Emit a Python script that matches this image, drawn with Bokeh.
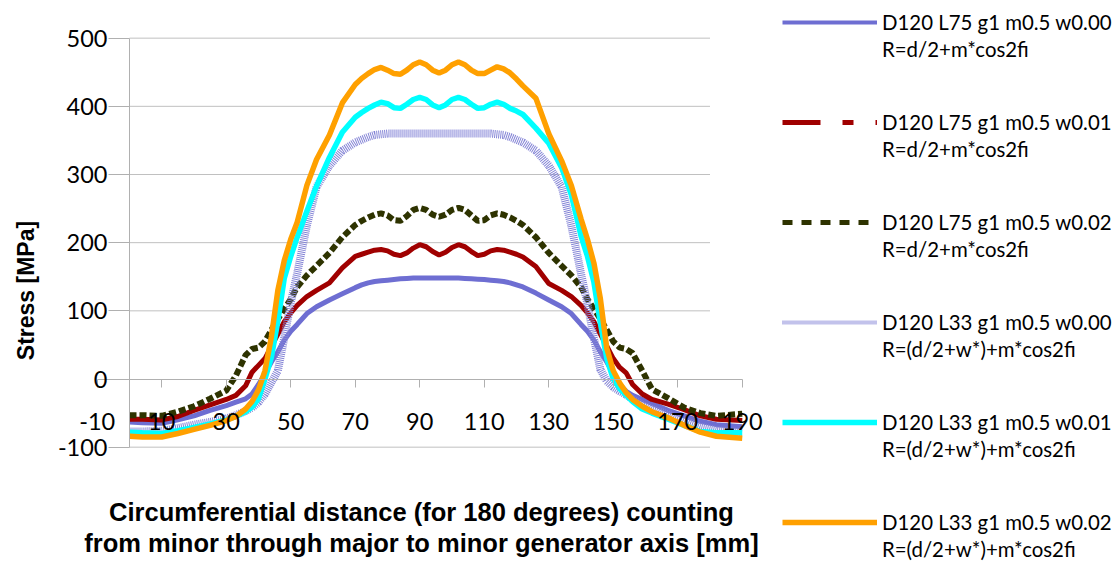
import math
from bokeh.plotting import figure
from bokeh.models import FixedTicker, Legend, LegendItem, Label, Range1d, ColumnDataSource
from bokeh.embed import file_html
from bokeh.resources import INLINE

# ---- data ----
x_mm = [0, 4, 10, 15, 20, 25, 30, 33, 36, 38,
        40, 42, 44, 46, 48, 50, 52, 55, 58, 62,
        66, 70, 72, 74, 76, 78, 80, 82, 84, 86,
        88, 90, 92, 94, 96,
        98, 100, 102, 104, 106, 108, 110, 112, 114, 116,
        118, 120, 122, 126, 130, 134, 137, 140, 142, 144,
        146, 148, 150, 152, 154, 156, 159, 162, 167, 172,
        177, 182, 190]

s1_L75_w000 = [-63, -64, -65, -60, -54, -46, -39, -34, -29, -22,
               -8, 8, 25, 40, 57, 70, 80, 96, 106, 116,
               125, 134, 138, 141, 143, 144, 145, 146, 147, 147.5,
               148, 148, 148, 148, 148,
               148, 148, 148, 147.5, 147, 146.5, 146, 145, 144, 143,
               141, 138, 135, 126, 116, 106, 96, 80, 70, 57,
               40, 25, 8, -8, -18, -24, -30, -36, -46, -54,
               -62, -67, -70]

s2_L75_w001 = [-59, -59, -60, -55, -46, -38, -30, -24, -10, 10,
               20, 30, 48, 66, 84, 97, 108, 121, 130, 141,
               163, 180, 183, 186, 189, 190, 188, 183, 181, 185,
               192, 197, 194, 187, 182,
               186, 193, 197, 194, 187, 181, 183, 188, 190, 189,
               186, 183, 179, 165, 140, 130, 121, 108, 97, 84,
               66, 48, 30, 17, 9, -8, -22, -30, -37, -45,
               -54, -59, -61]

s3_L75_w002 = [-53, -53, -54, -48, -40, -29, -17, 5, 35, 44,
               46, 55, 72, 88, 103, 117, 135, 152, 166, 185,
               208, 226, 232, 237, 241, 243, 240, 233, 232, 239,
               248, 251, 248, 241, 238,
               241, 248, 251, 248, 240, 232, 233, 240, 243, 241,
               237, 232, 226, 208, 185, 166, 152, 135, 117, 103,
               88, 72, 55, 46, 44, 38, 12, -15, -28, -42,
               -50, -54, -51]

s4_L33_w000 = [-77, -77, -76, -72, -67, -63, -58, -53, -47, -42,
               -34, -22, -5, 12, 60, 112, 155, 225, 282, 313,
               335, 347, 351, 355, 358, 359, 360, 360, 360, 360,
               360, 360, 360, 360, 360,
               360, 360, 360, 360, 360, 360, 360, 360, 359, 358,
               355, 351, 347, 335, 313, 282, 225, 155, 110, 60,
               14, -3, -12, -18, -23, -30, -38, -44, -52, -61,
               -70, -75, -78]

s5_L33_w001 = [-78, -79, -80, -76, -71, -66, -60, -55, -48, -41,
               -29, 0, 32, 85, 148, 180, 208, 246, 283, 325,
               362, 384, 391, 397, 402, 406, 404, 398, 397, 403,
               410, 413, 410, 402, 398,
               402, 410, 413, 410, 403, 397, 398, 403, 406, 403,
               397, 393, 388, 368, 346, 310, 270, 210, 180, 142,
               82, 30, 0, -14, -24, -33, -44, -50, -59, -68,
               -77, -79, -79]

s6_L33_w002 = [-84, -85, -85, -80, -74, -68, -61, -55, -44, -33,
               -16, 12, 62, 130, 174, 205, 230, 284, 322, 358,
               405, 432, 441, 448, 454, 457, 453, 448, 447, 453,
               461, 465, 461, 453, 449,
               453, 461, 465, 461, 453, 448, 448, 453, 458, 455,
               449, 440, 430, 412, 360, 320, 284, 235, 205, 170,
               118, 45, 12, -6, -20, -30, -40, -48, -57, -68,
               -78, -84, -87]

series_labels = [
    "D120 L75 g1 m0.5 w0.00\nR=d/2+m*cos2fi",
    "D120 L75 g1 m0.5 w0.01\nR=d/2+m*cos2fi",
    "D120 L75 g1 m0.5 w0.02\nR=d/2+m*cos2fi",
    "D120 L33 g1 m0.5 w0.00\nR=(d/2+w*)+m*cos2fi",
    "D120 L33 g1 m0.5 w0.01\nR=(d/2+w*)+m*cos2fi",
    "D120 L33 g1 m0.5 w0.02\nR=(d/2+w*)+m*cos2fi",
]

x_ticks = [-10, 10, 30, 50, 70, 90, 110, 130, 150, 170, 190]
y_ticks = [-100, 0, 100, 200, 300, 400, 500]
grid_y = [-100, 100, 200, 300, 400, 500]
grid_x_start, grid_x_end = 0, 180
x_bounds = (-10, 190)
y_bounds = (-100, 500)

x_title_lines = ["Circumferential distance (for 180 degrees) counting",
                 "from minor through major to minor generator axis [mm]"]
y_title = "Stress [MPa]"

# ---- layout: the frame covers the whole canvas, axes sit at x=0 / y=0 ----
W, H = 1116, 569
X0_PX, X_SCALE = 129.0, 3.225      # page px of x=0, px per mm
Y0_PX, Y_SCALE = 378.5, 0.6817     # page px of y=0, px per MPa


def dx(px):
    return (px - X0_PX) / X_SCALE


def dy(py):
    return (Y0_PX - py) / Y_SCALE


p = figure(frame_width=W, frame_height=H,
           x_range=Range1d(dx(0), dx(W)), y_range=Range1d(dy(H), dy(0)),
           output_backend="svg", toolbar_location=None,
           min_border_left=0, min_border_right=0, min_border_top=0, min_border_bottom=0)
p.outline_line_color = None
p.xgrid.visible = False
p.ygrid.visible = False
p.background_fill_color = "white"
p.border_fill_color = "white"

grid_color = "#c0c0c0"
p.segment(x0=[grid_x_start] * len(grid_y), x1=[grid_x_end] * len(grid_y),
          y0=grid_y, y1=grid_y, line_color=grid_color, line_width=1)

src = ColumnDataSource(dict(x=x_mm, s1=s1_L75_w000, s2=s2_L75_w001, s3=s3_L75_w002,
                            s4=s4_L33_w000, s5=s5_L33_w001, s6=s6_L33_w002))

r1 = p.line("x", "s1", source=src, line_color="#6e6ed2", line_width=5)
r2 = p.line("x", "s2", source=src, line_color="#a00000", line_width=5)
r3 = p.line("x", "s3", source=src, line_color="#2e3300", line_width=6, line_dash="7 3")
r4 = p.line("x", "s4", source=src, line_color="#8484d6", line_width=8, line_dash="1 1")
r5 = p.line("x", "s5", source=src, line_color="#00ffff", line_width=5.5)
r6 = p.line("x", "s6", source=src, line_color="#ffa000", line_width=5.5)

# legend key swatches (Excel style dashes in the key); NaN data -> nothing in the plot
nan = float("nan")
keysrc = ColumnDataSource(dict(x=[nan, nan], y=[nan, nan]))
k1 = p.line("x", "y", source=keysrc, line_color="#6e6ed2", line_width=4)
k2 = p.line("x", "y", source=keysrc, line_color="#a00000", line_width=5, line_dash="38 22 11 22")
k3 = p.line("x", "y", source=keysrc, line_color="#2e3300", line_width=5, line_dash="10 9")
k4 = p.line("x", "y", source=keysrc, line_color="#8484d6", line_width=4, line_dash="1 1")
blank = p.line("x", "y", source=keysrc, line_alpha=0)
keys = [k1, k2, k3, k4, r5, r6]

items = []
for i, lab in enumerate(series_labels):
    first, second = lab.split("\n")
    items.append(LegendItem(label=first, renderers=[keys[i]]))
    items.append(LegendItem(label=second, renderers=[blank]))
    if i < len(series_labels) - 1:
        items.append(LegendItem(label=" ", renderers=[blank]))
        items.append(LegendItem(label=" ", renderers=[blank]))

legend = Legend(items=items, location=(782, 8), orientation="vertical",
                glyph_width=95, glyph_height=20, label_height=20, label_standoff=5, spacing=3,
                padding=0, margin=0, border_line_color=None, background_fill_alpha=0,
                label_text_font="Lato", label_text_font_size="20.4px",
                label_text_color="black")
p.add_layout(legend)

# axes
axis_color = "#b0b0b0"
xa = p.xaxis[0]
xa.ticker = FixedTicker(ticks=x_ticks)
xa.major_label_overrides = {t: str(t) for t in x_ticks}
xa.fixed_location = 0
xa.bounds = x_bounds
xa.axis_line_color = axis_color
xa.major_tick_line_color = axis_color
xa.major_tick_out = 8
xa.major_tick_in = 0
xa.minor_tick_line_color = None
xa.major_label_text_font = "Lato"
xa.major_label_text_font_size = "23.5px"
xa.major_label_text_color = "black"
xa.major_label_standoff = 26

ya = p.yaxis[0]
ya.ticker = FixedTicker(ticks=y_ticks)
ya.major_label_overrides = {t: str(t) for t in y_ticks}
ya.fixed_location = 0
ya.bounds = y_bounds
ya.axis_line_color = axis_color
ya.major_tick_line_color = axis_color
ya.major_tick_out = 21
ya.major_tick_in = 0
ya.minor_tick_line_color = None
ya.major_label_text_font = "Lato"
ya.major_label_text_font_size = "23.5px"
ya.major_label_text_color = "black"
ya.major_label_standoff = 1

title_font = dict(text_font="Liberation Sans", text_font_style="bold", text_color="black")
p.add_layout(Label(x=dx(25), y=dy(290), text=y_title, angle=math.pi / 2,
                   text_align="center", text_baseline="middle",
                   text_font_size="23px", **title_font))
for line, py in zip(x_title_lines, [511, 542]):
    p.add_layout(Label(x=dx(421), y=dy(py), text=line,
                       text_align="center", text_baseline="middle",
                       text_font_size="25.5px", **title_font))

open("out.html", "w").write(file_html(p, INLINE))
